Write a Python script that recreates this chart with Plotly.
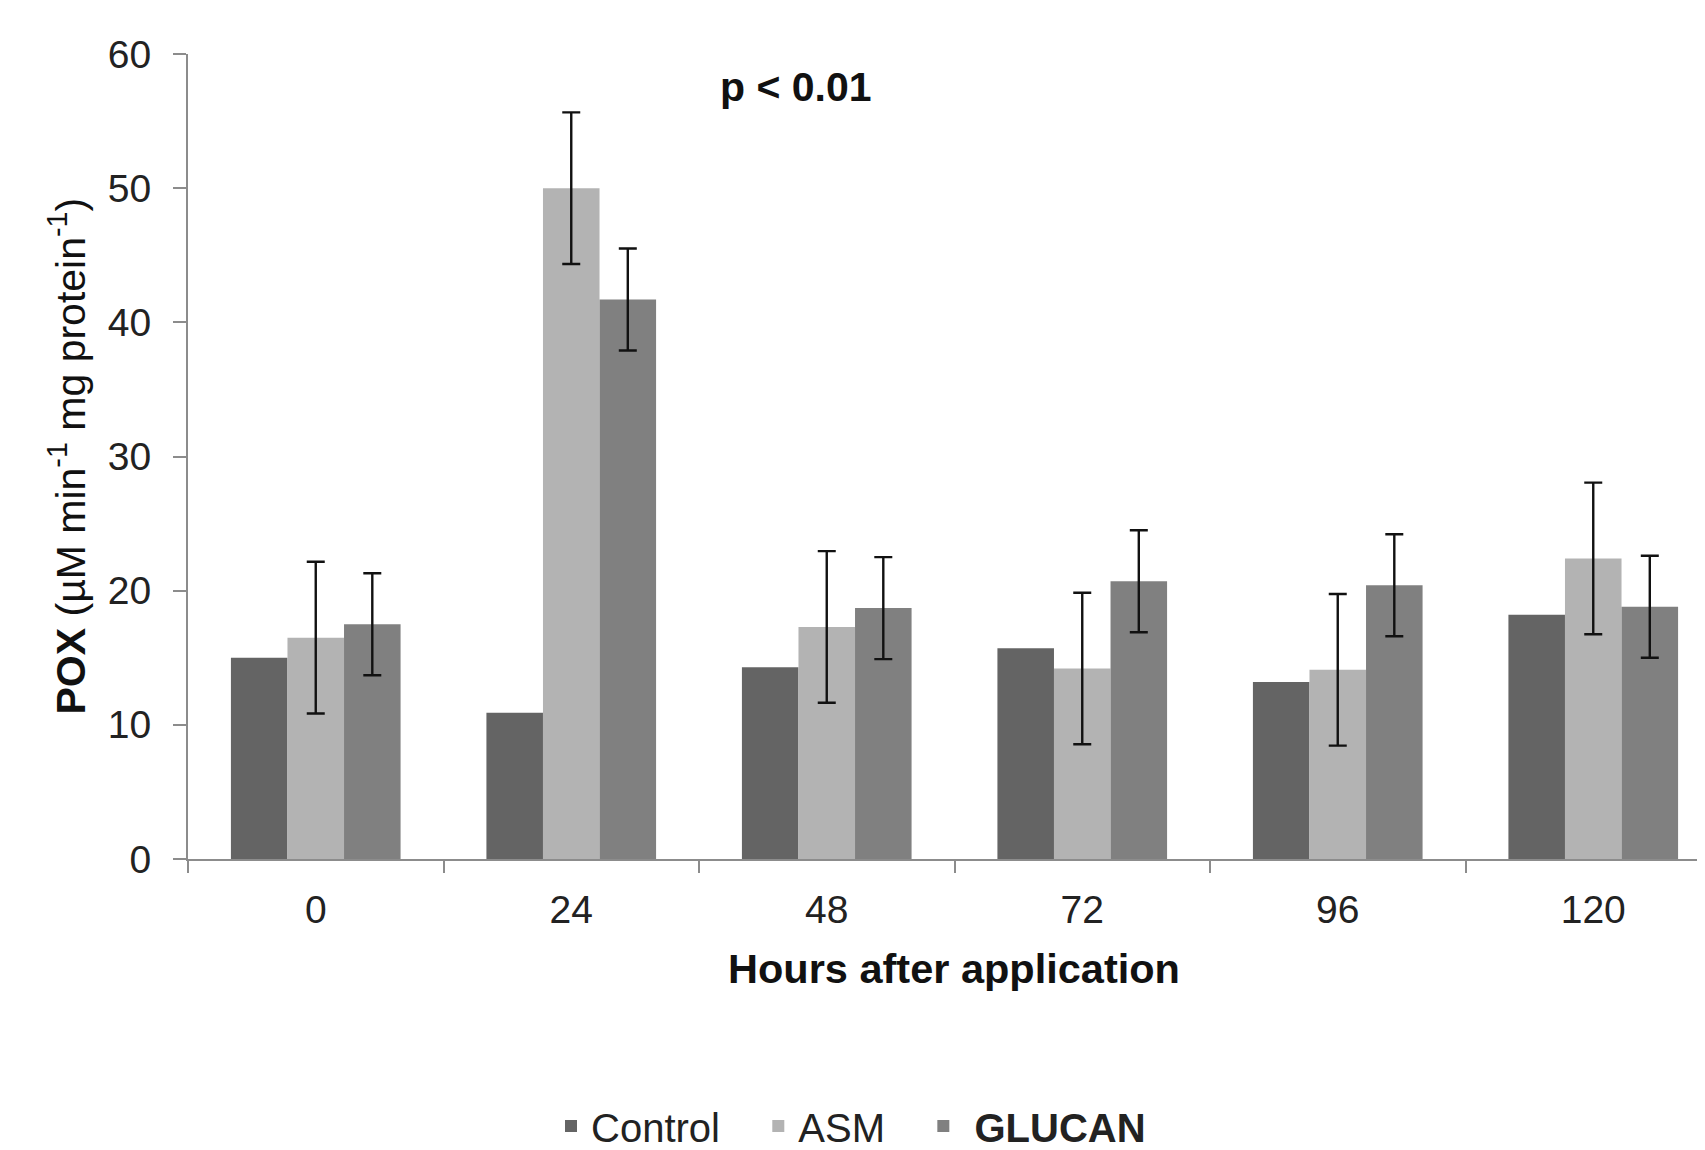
import plotly.graph_objects as go

categories = ["0", "24", "48", "72", "96", "120"]
control = [15.0, 10.9, 14.3, 15.7, 13.2, 18.2]
asm = [16.5, 50.0, 17.3, 14.2, 14.1, 22.4]
asm_err = [5.65, 5.65, 5.65, 5.65, 5.65, 5.65]
glucan = [17.5, 41.7, 18.7, 20.7, 20.4, 18.8]
glucan_err = [3.8, 3.8, 3.8, 3.8, 3.8, 3.8]
y_ticks = [0, 10, 20, 30, 40, 50, 60]
legend_names = ["Control\u00a0\u00a0\u00a0", "ASM\u00a0\u00a0\u00a0", "\u00a0<b>GLUCAN</b>"]

FONT = "Liberation Sans, Arial, sans-serif"
AXIS_COLOR = "#8c8c8c"
OFF = 8  # page body margin
W, H = 1705 - OFF, 1150 - OFF
L = 188 - OFF
T = 54 - OFF
B = H - (859 - OFF)
R = 0
plot_w = W - L - R
plot_h = H - T - B

fig = go.Figure()
fig.add_trace(go.Bar(x=categories, y=control, name=legend_names[0],
                     marker=dict(color="#646464", line=dict(width=0))))
fig.add_trace(go.Bar(x=categories, y=asm, name=legend_names[1],
                     marker=dict(color="#b3b3b3", line=dict(width=0)),
                     error_y=dict(type="data", array=asm_err, visible=True,
                                  color="#111111", thickness=2.4, width=9)))
fig.add_trace(go.Bar(x=categories, y=glucan, name=legend_names[2],
                     marker=dict(color="#808080", line=dict(width=0)),
                     error_y=dict(type="data", array=glucan_err, visible=True,
                                  color="#111111", thickness=2.4, width=9)))

cat_px = 255.5
x_right = -0.5 + plot_w / cat_px


def px_x(x_ref):
    return (x_ref - 188) / plot_w


def px_y(y_ref):
    return (859 - y_ref) / plot_h


fig.update_layout(
    width=W, height=H,
    margin=dict(l=L, r=R, t=T, b=B, autoexpand=False),
    paper_bgcolor="white", plot_bgcolor="white",
    barmode="group", bargap=0.336, bargroupgap=0,
    font=dict(family=FONT, color="#222222", size=39),
    showlegend=True,
    legend=dict(orientation="h", x=px_x(551), xanchor="left", y=px_y(1126),
                yanchor="middle", font=dict(size=40, color="#222222"),
                bgcolor="rgba(0,0,0,0)", itemwidth=30, traceorder="normal"),
    xaxis=dict(type="category", range=[-0.5, x_right], showline=True,
               linecolor=AXIS_COLOR, linewidth=2, ticks="outside",
               tickson="boundaries", ticklen=12, tickwidth=2, tickcolor=AXIS_COLOR,
               showgrid=False, zeroline=False, ticklabelstandoff=15,
               tickfont=dict(size=39, color="#222222")),
    yaxis=dict(range=[0, 60], tickvals=y_ticks, showline=True,
               linecolor=AXIS_COLOR, linewidth=2, ticks="outside", ticklen=13,
               tickwidth=2, tickcolor=AXIS_COLOR, showgrid=False, zeroline=False,
               ticklabelstandoff=14, tickfont=dict(size=39, color="#222222")),
    annotations=[
        dict(text="<b>Hours after application</b>", xref="paper", yref="paper",
             x=px_x(954), y=px_y(968), xanchor="center",
             yanchor="middle", showarrow=False, font=dict(size=41.5, color="#111111")),
        dict(text="<b>POX</b> (µM min<sup>-1</sup> mg protein<sup>-1</sup>)",
             xref="paper", yref="paper", x=px_x(67), y=0.5,
             xanchor="center", yanchor="middle", textangle=-90, showarrow=False,
             font=dict(size=41, color="#111111")),
        dict(text="<b>p < 0.01</b>", xref="paper", yref="paper",
             x=px_x(796), y=px_y(87), xanchor="center",
             yanchor="middle", showarrow=False, font=dict(size=41, color="#111111")),
    ],
)

fig.write_html("out.html")
